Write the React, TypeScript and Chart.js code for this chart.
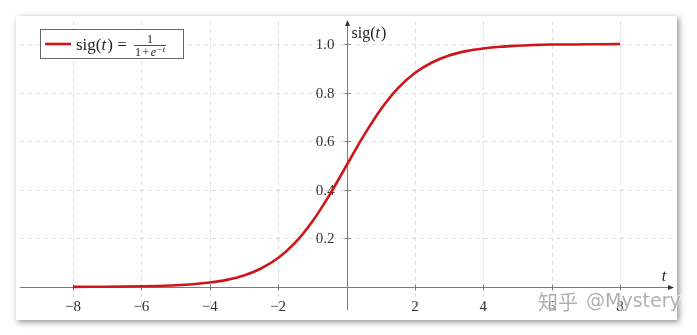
import React, { useEffect, useRef } from "react";
import { Chart, registerables } from "chart.js";

Chart.register(...registerables);

// Curve samples: t and sig(t)
const T_VALUES = [-8, -7.5, -7, -6.5, -6, -5.5, -5, -4.5, -4, -3.5, -3, -2.5, -2, -1.5, -1, -0.5, 0, 0.5, 1, 1.5, 2, 2.5, 3, 3.5, 4, 4.5, 5, 5.5, 6, 6.5, 7, 7.5, 8];
const SIG_VALUES = [0.0003, 0.0006, 0.0009, 0.0015, 0.0025, 0.0041, 0.0067, 0.011, 0.018, 0.029, 0.047, 0.076, 0.119, 0.182, 0.269, 0.378, 0.5, 0.622, 0.731, 0.818, 0.881, 0.924, 0.953, 0.971, 0.982, 0.989, 0.993, 0.996, 0.998, 0.998, 0.999, 0.999, 1.0];

const X_TICKS = [-8, -6, -4, -2, 2, 4, 6, 8];
const X_TICK_LABELS = ["\u22128", "\u22126", "\u22124", "\u22122", "2", "4", "6", "8"];
const Y_TICKS = [0.2, 0.4, 0.6, 0.8, 1.0];
const Y_TICK_LABELS = ["0.2", "0.4", "0.6", "0.8", "1.0"];

const SERIES_LABEL = "sig(t)";
const X_AXIS_TITLE = "t";
const WATERMARK_CN = "知乎";
const WATERMARK_EN = "@Mystery";

const RED = "rgb(205,22,26)";
const SERIF = "'Liberation Serif', 'DejaVu Serif', serif";

function drawSigText(ctx: CanvasRenderingContext2D, x: number, y: number, size: number) {
  ctx.textAlign = "left";
  ctx.textBaseline = "alphabetic";
  ctx.font = `${size}px ${SERIF}`;
  let cx = x;
  ctx.fillText("sig(", cx, y);
  cx += ctx.measureText("sig(").width;
  ctx.font = `italic ${size}px ${SERIF}`;
  ctx.fillText("t", cx, y);
  cx += ctx.measureText("t").width + 1;
  ctx.font = `${size}px ${SERIF}`;
  ctx.fillText(")", cx, y);
  cx += ctx.measureText(")").width;
  return cx;
}

const decorPlugin = {
  id: "decor",
  beforeDraw(chart: any) {
    const ctx = chart.ctx as CanvasRenderingContext2D;
    ctx.save();
    ctx.fillStyle = "#ffffff";
    ctx.fillRect(0, 0, chart.width, chart.height);
    ctx.shadowColor = "rgba(0,0,0,0.45)";
    ctx.shadowBlur = 6;
    ctx.shadowOffsetX = 2;
    ctx.shadowOffsetY = 2;
    ctx.fillRect(16, 16, 661, 304);
    ctx.restore();
  },
  beforeDatasetsDraw(chart: any) {
    const ctx = chart.ctx as CanvasRenderingContext2D;
    const xs = chart.scales.x;
    const ys = chart.scales.y;
    const area = chart.chartArea;
    const x0 = Math.round(xs.getPixelForValue(0)) + 0.5;
    const y0 = Math.round(ys.getPixelForValue(0)) + 0.5;
    ctx.save();
    ctx.strokeStyle = "#dcdcdc";
    ctx.lineWidth = 1;
    ctx.setLineDash([4, 4]);
    for (const t of X_TICKS) {
      const px = Math.round(xs.getPixelForValue(t)) + 0.5;
      ctx.beginPath();
      ctx.moveTo(px, area.top);
      ctx.lineTo(px, area.bottom);
      ctx.stroke();
    }
    for (const v of Y_TICKS) {
      const py = Math.round(ys.getPixelForValue(v)) + 0.5;
      ctx.beginPath();
      ctx.moveTo(area.left, py);
      ctx.lineTo(area.right, py);
      ctx.stroke();
    }
    ctx.setLineDash([]);
    ctx.strokeStyle = "#7a7a7a";
    ctx.lineWidth = 1;
    ctx.beginPath();
    ctx.moveTo(area.left, y0);
    ctx.lineTo(area.right, y0);
    ctx.moveTo(x0, area.bottom);
    ctx.lineTo(x0, area.top);
    ctx.stroke();
    ctx.fillStyle = "#333";
    ctx.beginPath();
    ctx.moveTo(area.right + 1, y0);
    ctx.lineTo(area.right - 5, y0 - 2.5);
    ctx.lineTo(area.right - 5, y0 + 2.5);
    ctx.closePath();
    ctx.fill();
    ctx.beginPath();
    ctx.moveTo(x0, area.top - 1);
    ctx.lineTo(x0 - 2.5, area.top + 5);
    ctx.lineTo(x0 + 2.5, area.top + 5);
    ctx.closePath();
    ctx.fill();
    ctx.strokeStyle = "#7a7a7a";
    ctx.beginPath();
    for (const t of X_TICKS) {
      const px = Math.round(xs.getPixelForValue(t)) + 0.5;
      ctx.moveTo(px, y0 - 3);
      ctx.lineTo(px, y0 + 3);
    }
    for (const v of Y_TICKS) {
      const py = Math.round(ys.getPixelForValue(v)) + 0.5;
      ctx.moveTo(x0 - 3, py);
      ctx.lineTo(x0 + 3, py);
    }
    ctx.stroke();
    ctx.fillStyle = "#333";
    ctx.font = `15px ${SERIF}`;
    ctx.textAlign = "center";
    ctx.textBaseline = "middle";
    X_TICKS.forEach((t, i) => {
      ctx.fillText(X_TICK_LABELS[i], xs.getPixelForValue(t), y0 + 20);
    });
    ctx.textAlign = "right";
    Y_TICKS.forEach((v, i) => {
      ctx.fillText(Y_TICK_LABELS[i], x0 - 13, ys.getPixelForValue(v) + 1);
    });
    ctx.restore();
  },
  afterDatasetsDraw(chart: any) {
    const ctx = chart.ctx as CanvasRenderingContext2D;
    const xs = chart.scales.x;
    const ys = chart.scales.y;
    const area = chart.chartArea;
    const x0 = xs.getPixelForValue(0);
    const y0 = ys.getPixelForValue(0);
    ctx.save();
    ctx.fillStyle = "#222";
    drawSigText(ctx, x0 + 5, area.top + 17, 16);
    ctx.font = `italic 16px ${SERIF}`;
    ctx.textAlign = "center";
    ctx.textBaseline = "alphabetic";
    ctx.fillText(X_AXIS_TITLE, area.right - 9, y0 - 6);

    // legend box
    ctx.fillStyle = "#ffffff";
    ctx.fillRect(40.5, 29.5, 143, 29);
    ctx.strokeStyle = "#666";
    ctx.lineWidth = 1;
    ctx.strokeRect(40.5, 29.5, 143, 29);
    ctx.strokeStyle = RED;
    ctx.lineWidth = 2.6;
    ctx.beginPath();
    ctx.moveTo(45, 44);
    ctx.lineTo(71, 44);
    ctx.stroke();
    ctx.fillStyle = "#222";
    let cx = drawSigText(ctx, 76, 50, 17);
    ctx.font = `17px ${SERIF}`;
    ctx.fillText(" = ", cx, 50);
    cx += ctx.measureText(" = ").width + 3;
    // fraction 1 / (1 + e^{-t})
    const fx = cx;
    let dx = fx + 1;
    ctx.font = `12px ${SERIF}`;
    ctx.textAlign = "left";
    ctx.fillText("1", dx, 56);
    dx += ctx.measureText("1").width + 1.5;
    ctx.fillText("+", dx, 56);
    dx += ctx.measureText("+").width + 1.5;
    ctx.font = `italic 12px ${SERIF}`;
    ctx.fillText("e", dx, 56);
    dx += ctx.measureText("e").width + 0.5;
    ctx.font = `italic 9px ${SERIF}`;
    ctx.fillText("\u2212t", dx, 51.5);
    dx += ctx.measureText("\u2212t").width + 1;
    ctx.strokeStyle = "#222";
    ctx.lineWidth = 0.8;
    ctx.beginPath();
    ctx.moveTo(fx, 45.5);
    ctx.lineTo(dx, 45.5);
    ctx.stroke();
    ctx.font = `12px ${SERIF}`;
    ctx.textAlign = "center";
    ctx.fillText("1", (fx + dx) / 2, 43);

    // watermark
    ctx.textBaseline = "middle";
    ctx.textAlign = "left";
    ctx.fillStyle = "rgba(150,150,150,0.75)";
    ctx.strokeStyle = "rgba(255,255,255,0.6)";
    ctx.lineWidth = 2;
    ctx.font = `20px 'Noto Sans CJK SC', sans-serif`;
    ctx.strokeText(WATERMARK_CN, 538, 302);
    ctx.fillText(WATERMARK_CN, 538, 302);
    const wcn = ctx.measureText(WATERMARK_CN).width;
    ctx.font = `19px 'DejaVu Sans', sans-serif`;
    ctx.strokeText(WATERMARK_EN, 538 + wcn + 8, 302);
    ctx.fillText(WATERMARK_EN, 538 + wcn + 8, 302);
    ctx.restore();
  },
};

export default function App() {
  const ref = useRef<HTMLCanvasElement | null>(null);
  useEffect(() => {
    document.body.style.margin = "0";
    const canvas = ref.current!;
    const chart = new Chart(canvas, {
      type: "line",
      data: {
        datasets: [
          {
            label: SERIES_LABEL,
            data: T_VALUES.map((t, i) => ({ x: t, y: SIG_VALUES[i] })),
            borderColor: RED,
            borderWidth: 2.6,
            pointRadius: 0,
            cubicInterpolationMode: "monotone",
            fill: false,
          },
        ],
      },
      options: {
        animation: false,
        responsive: false,
        devicePixelRatio: 1,
        layout: { padding: { left: 20, right: 24, top: 21, bottom: 25 } },
        scales: {
          x: { type: "linear", min: -9.55, max: 9.55, display: false },
          y: { type: "linear", min: -0.095, max: 1.095, display: false },
        },
        plugins: { legend: { display: false }, tooltip: { enabled: false } },
      },
      plugins: [decorPlugin],
    } as any);
    return () => chart.destroy();
  }, []);
  return (
    <div style={{ position: "absolute", left: 0, top: 0, width: 697, height: 335 }}>
      <canvas ref={ref} width={697} height={335} style={{ width: 697, height: 335, display: "block" }} />
    </div>
  );
}
